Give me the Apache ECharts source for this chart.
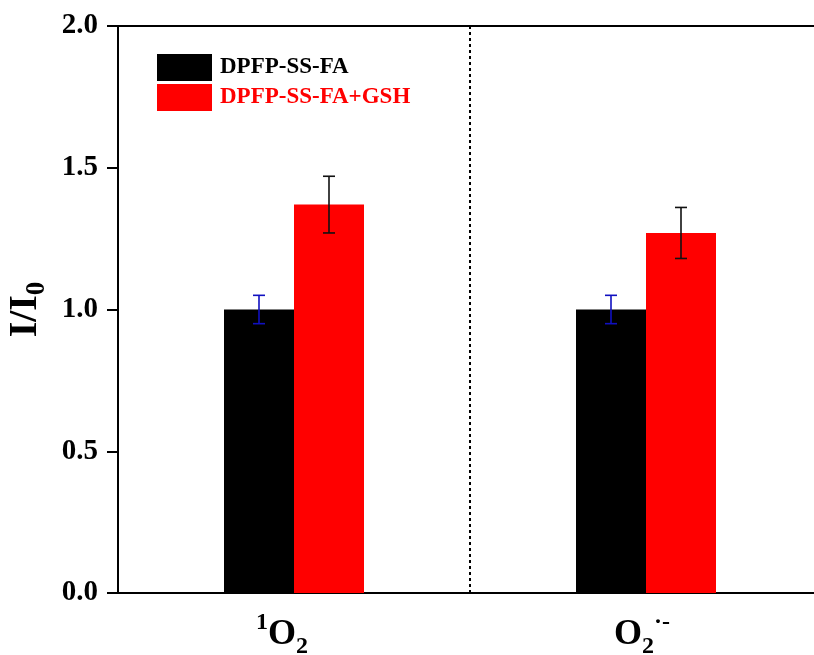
<!DOCTYPE html>
<html><head><meta charset="utf-8">
<script src="https://cdn.jsdelivr.net/npm/echarts@6/dist/echarts.min.js"></script>
<style>html,body{margin:0;padding:0;background:#fff}#c{width:814px;height:655px}</style>
</head><body><div id="c"></div>
<script>
const categories = ['1O2', 'O2-'];
const seriesNames = ['DPFP-SS-FA', 'DPFP-SS-FA+GSH'];
const valuesBase = [1.00, 1.00];
const errBase = [0.05, 0.05];
const valuesGSH = [1.37, 1.27];
const errGSH = [0.10, 0.09];
const yTicks = [0, 0.5, 1.0, 1.5, 2.0];

const FONT = '"Liberation Serif", "Times New Roman", serif';
const BAR_W = 70;

function errData(vals, errs) {
  return vals.map((v, i) => [i, v - errs[i], v + errs[i]]);
}
function errRender(offset, color) {
  return function (params, api) {
    const lo = api.coord([api.value(0), api.value(1)]);
    const hi = api.coord([api.value(0), api.value(2)]);
    const x = lo[0] + offset;
    const cap = 6;
    const style = { stroke: color, lineWidth: 1.6 };
    return { type: 'group', children: [
      { type: 'line', shape: { x1: x, y1: lo[1], x2: x, y2: hi[1] }, style },
      { type: 'line', shape: { x1: x - cap, y1: lo[1], x2: x + cap, y2: lo[1] }, style },
      { type: 'line', shape: { x1: x - cap, y1: hi[1], x2: x + cap, y2: hi[1] }, style }
    ]};
  };
}

const chart = echarts.init(document.getElementById('c'), null, { renderer: 'canvas' });
chart.setOption({
  backgroundColor: '#fff',
  animation: false,
  grid: { left: 118, right: -8, top: 26, bottom: 62, containLabel: false, outerBoundsMode: 'none' },
  legend: {
    left: 157, top: 54, orient: 'vertical', itemWidth: 55, itemHeight: 27, itemGap: 3,
    padding: 0, icon: 'rect',
    data: [
      { name: seriesNames[0], textStyle: { color: '#000' } },
      { name: seriesNames[1], textStyle: { color: '#ff0000' } }
    ],
    textStyle: { fontFamily: FONT, fontWeight: 'bold', fontSize: 23, padding: [0, 0, 0, 3] }
  },
  xAxis: [{
    type: 'category', data: categories,
    axisLine: { show: true, lineStyle: { color: '#000', width: 2 } },
    axisTick: { show: false },
    splitLine: { show: true, lineStyle: { color: '#000', type: [3, 3], width: 2 } },
    axisLabel: {
      margin: 18,
      formatter: function (v) {
        if (v === '1O2') return '{sup|1}{b|O}{sub|2}{g1| }';
        return '{b|O}{sub|2}{sup|·-}{g2| }';
      },
      rich: {
        b: { fontFamily: FONT, fontWeight: 'bold', fontSize: 36, color: '#000', lineHeight: 48, verticalAlign: 'middle' },
        sup: { fontFamily: FONT, fontWeight: 'bold', fontSize: 24, color: '#000', lineHeight: 48, verticalAlign: 'top' },
        sub: { fontFamily: FONT, fontWeight: 'bold', fontSize: 24, color: '#000', lineHeight: 48, verticalAlign: 'bottom' },
        g1: { width: 24, fontSize: 10 },
        g2: { width: 8, fontSize: 10 }
      }
    }
  }, {
    type: 'category', data: categories, position: 'top',
    axisLine: { show: true, lineStyle: { color: '#000', width: 2 } },
    axisTick: { show: false }, axisLabel: { show: false }, splitLine: { show: false }
  }],
  yAxis: {
    type: 'value', min: yTicks[0], max: yTicks[yTicks.length - 1], interval: 0.5,
    name: '{i|I/I}{s|0}', nameLocation: 'middle', nameGap: 64, nameRotate: 90,
    nameTextStyle: {
      rich: {
        i: { fontFamily: FONT, fontWeight: 'bold', fontSize: 40, color: '#000', lineHeight: 50, verticalAlign: 'middle' },
        s: { fontFamily: FONT, fontWeight: 'bold', fontSize: 27, color: '#000', lineHeight: 50, verticalAlign: 'bottom' }
      }
    },
    axisLine: { show: true, lineStyle: { color: '#000', width: 2 } },
    axisTick: { show: true, inside: false, length: 11, lineStyle: { color: '#000', width: 2 } },
    splitLine: { show: false },
    axisLabel: {
      margin: 20, fontFamily: FONT, fontWeight: 'bold', fontSize: 29, color: '#000',
      formatter: v => v.toFixed(1)
    }
  },
  series: [
    { name: seriesNames[0], type: 'bar', data: valuesBase, barWidth: BAR_W, barGap: '0%',
      itemStyle: { color: '#000' } },
    { name: seriesNames[1], type: 'bar', data: valuesGSH, barWidth: BAR_W, barGap: '0%',
      itemStyle: { color: '#ff0000' } },
    { type: 'custom', data: errData(valuesBase, errBase), encode: { x: 0, y: [1, 2] },
      renderItem: errRender(-BAR_W / 2, '#1010c0'), z: 5, silent: true },
    { type: 'custom', data: errData(valuesGSH, errGSH), encode: { x: 0, y: [1, 2] },
      renderItem: errRender(BAR_W / 2, '#111'), z: 5, silent: true }
  ]
});
</script></body></html>
